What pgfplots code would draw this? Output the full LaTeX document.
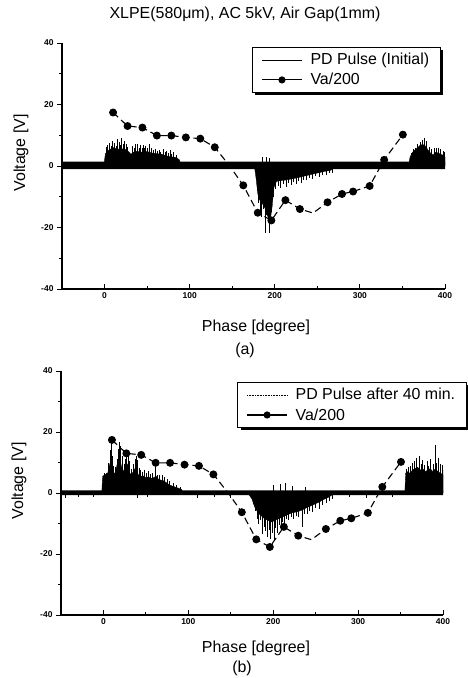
\documentclass[border=0pt]{standalone}
\usepackage{fontspec}
\setmainfont{Liberation Sans}
\usepackage{pgfplots}
\usepackage{pgfplotstable}
\pgfplotsset{compat=1.18}
\usetikzlibrary{shadows}
% legend images must not inherit the legend box shadow
\makeatletter
\tikzset{nopre/.code={\let\tikz@preactions=\pgfutil@empty}}
\makeatother

% applied voltage / 200 (same trace in both panels)
\pgfplotstableread{
x y
10 17.4
27 13.0
44.5 12.5
61.5 9.9
78.5 9.9
95.5 9.3
112.5 8.9
129.5 6.1
147 0
163 -6.3
180 -15.2
196 -17.7
212.5 -11.1
229.5 -14.0
245 -15.3
262 -11.8
279 -9.1
292 -8.3
311.5 -6.5
328.5 2.0
350.5 10.2
}\va

% ---- panel (a): PD pulse, initial ----
\pgfplotstableread{
x y
-1 0
1 4
4 5.0
7 5.5
10 6.0
14 5.6
18 5.4
22 5.6
26 5.2
29 4.5
31 3.8
34 4.5
38 4.8
44 4.5
50 4.7
56 4.2
62 4.0
68 3.8
72 3.3
78 3.0
84 2.8
88 2.0
90 0
}\bodyAa
\pgfplotstableread{
x y
2 6.2
3 6.8
5 6.0
6 7.4
8 6.6
9 8.1
11 7.0
12 7.5
14 6.4
15 8.9
17 7.8
19 6.8
20 9.2
22 7.0
23 8.2
25 7.0
27 6.3
33 6.5
35 5.8
36 7.0
38 6.0
39 7.1
41 5.9
42 6.8
44 5.7
45 6.9
47 5.8
48 6.6
50 5.7
52 7.1
55 5.9
57 5.1
60 5.6
62 4.8
64 5.2
66 4.6
69 5.5
71 4.4
73 5.0
75 4.2
77 5.3
79 3.9
81 4.6
84 3.5
}\spkAa
\pgfplotstableread{
x y
176 0
178 -4
180 -9
182 -11
185 -12
187 -13
189 -14
191 -16
193 -17
195 -17
197 -13
199 -7
202 -5
206 -4.8
212 -4.6
218 -4.3
224 -4.0
230 -3.6
236 -3.2
242 -2.8
250 -2.3
258 -1.8
266 -1.4
270 0
}\bodyAb
\pgfplotstableread{
x y
179 -8
181 -12
183 -15
184 -16.5
186 -14
188.5 -21.8
190 -16
192 -18
193.6 -21.8
196 -15
198 -10
201 -7.5
204 -6.5
207 -7.2
210 -6.0
213 -6.8
216 -5.6
219 -6.3
222 -5.2
225 -6.0
228 -5.0
231 -5.4
234 -4.5
237 -4.7
240 -4.0
244 -4.2
248 -3.4
252 -3.5
256 -2.8
260 -3.0
264 -2.3
268 -2.2
185 2.8
190 3.0
194 2.5
}\spkAb
\pgfplotstableread{
x y
357 0
359 3.0
362 4.5
365 5.3
368 6.0
371 6.8
374 7.0
377 6.5
380 5.2
383 4.2
386 3.6
389 4.5
392 4.2
395 3.8
398 3.5
400 3.0
400 0
}\bodyAc
\pgfplotstableread{
x y
360 4.2
363 5.4
365.5 6.0
368 7.2
370.5 7.7
373 8.5
376 9.2
378.5 8.0
381 6.3
384 5.4
387 6.0
390 5.7
392.5 5.9
395 5.5
397.5 5.0
399.5 4.5
}\spkAc

% ---- panel (b): PD pulse after 40 min ----
\pgfplotstableread{
x y
-2 0
-1 5.5
2 6
5 6.5
7 9
9 11
11 8
13 6
15 8
17 10.5
19 12
21 9
23 7
25 8
27 10
29 9
31 6.5
33 6
35 7
37 8
39 7.5
41 6
44 5.5
47 5.6
50 5
53 5.3
56 4.8
59 5.0
62 5.5
65 4.5
68 4.2
71 4.0
74 3.4
77 2.8
80 2.4
84 2.0
88 1.6
92 1.2
94 0
}\bodyBa
\pgfplotstableread{
x y
1 6.5
3 6.4
6 10
8 14
9 16.3
10 12
12 9
14 8.5
16 11
18 14.5
19 16.6
20 15.4
22 12
24 9.5
26 11
27.5 14.2
29 13
31 10.4
33 8
35 9.5
37 11
38.5 12
40 10.9
42 8.2
44 7.5
46 7
48 7.4
50 6.6
53 7.2
55 6.2
58 6.5
61 8.7
63 6.0
66 5.8
69 6.0
72 5.4
75 4.6
78 3.8
82 3.2
86 2.5
90 2.0
}\spkBa
\pgfplotstableread{
x y
170 0
175 -2
178 -4.5
182 -6.5
186 -7.5
190 -8.5
194 -9
198 -9.5
202 -9
206 -8.5
210 -8
214 -7.5
218 -7
222 -6.5
226 -6.3
230 -6
234 -5.6
238 -5
242 -4.5
246 -4
250 -3.5
254 -3
258 -2.3
262 -1.8
266 -1.3
272 0
}\bodyBb
\pgfplotstableread{
x y
176 -3.5
179 -6
181 -8.5
183 -10
185 -9
187 -13.3
189 -11
191 -12.5
193 -14.3
195 -12
197 -15.2
199 -13
201 -15.8
203 -11.5
205 -13
207 -10.5
209 -12.6
211 -9.5
213 -10.5
215 -8.5
218 -9
221 -8
224 -8.5
227 -7.5
230 -8
234 -11
237 -7
240 -6.8
243 -6
246 -6.2
250 -5
254 -5.3
258 -4
262 -3.2
266 -2.5
270 -2
200 2.5
208 2.8
214 3.2
222 2.4
238 2.0
-45 -1.5
-30 -1.2
-12 -1.4
40 -1.6
52 -1.3
110 -1.5
130 -1.3
150 -1.6
290 -1.2
310 -1.5
340 -1.3
}\spkBb
\pgfplotstableread{
x y
355 0
356 6.5
358 7
361 6.5
364 7.5
367 8
370 8.5
373 7.5
376 8
379 7
382 7.5
385 8
388 7
391 8
394 7
397 6.5
400 6
400 0
}\bodyBc
\pgfplotstableread{
x y
357 8
359 8.5
361.5 9.0
363.5 9.8
366 10.5
368.3 11.4
371.5 12
374 9.5
375.5 10.8
378 9.2
381.3 10.5
383 9.0
385.2 11
388 9.4
391 15.7
392.5 10
394.2 11.4
396.5 9.5
398.9 9.3
400 7.5
}\spkBc

\pgfplotsset{
  panel/.style={
    scale only axis,
    xmin=-50, xmax=400, ymin=-40, ymax=40,
    axis x line*=bottom, axis y line*=left,
    axis line style={line width=1.1bp},
    xtick={0,100,200,300,400},
    minor xtick={50,150,250,350},
    ytick={-40,-20,0,20,40},
    minor ytick={-30,-10,10,30},
    xtick align=inside, ytick align=outside,
    major tick length=5bp, minor tick length=3bp,
    every tick/.style={black, line width=0.9bp},
    tick label style={font=\fontsize{8.5}{10}\selectfont\bfseries},
    /pgf/number format/assume math mode=true,
    legend cell align=left,
    legend image code/.code={%
      \draw[nopre,mark repeat=2,mark phase=2,##1] plot coordinates {(0bp,0bp) (20bp,0bp) (40bp,0bp)};
      \path (46bp,0bp);},
    legend style={font=\fontsize{16}{19}\selectfont, draw=black, line width=0.9bp,
      fill=white, inner xsep=9bp, inner ysep=4bp, row sep=3bp,
      drop shadow={shadow xshift=3bp, shadow yshift=-3bp, fill=black, opacity=1}},
  },
  valine/.style={black, line width=1.1bp, dash pattern=on 7bp off 4bp,
    mark=*, mark size=3.4bp, mark options={solid},
    mark indices={1,2,3,4,5,6,7,8,10,11,12,13,14,16,17,18,19,20,21}},
  body/.style={fill=black, draw=black, line width=0.3bp, forget plot},
  spikes/.style={ycomb, black, line width=0.6bp, forget plot},
}

\begin{document}
\begin{tikzpicture}
\useasboundingbox (0,0) rectangle (468bp,678bp);

\node[font=\fontsize{16}{19}\selectfont] at (245bp,664bp) {XLPE(580μm), AC 5kV, Air Gap(1mm)};

% (a)
\begin{axis}[panel, at={(62bp,389bp)}, anchor=south west, width=383bp, height=246bp,
  legend style={at={(0.496,0.984)}, anchor=north west}]
\addplot[fill=black, draw=none, forget plot] coordinates {(-50,-1.0) (400,-1.0) (400,1.4) (-50,1.4) (-50,-1.0)};
\addplot[body] table {\bodyAa} \closedcycle;
\addplot[body] table {\bodyAb} \closedcycle;
\addplot[body] table {\bodyAc} \closedcycle;
\addplot[spikes] table {\spkAa};
\addplot[spikes] table {\spkAb};
\addplot[spikes] table {\spkAc};
\addplot[valine, forget plot] table {\va};
\addlegendimage{black, line width=0.7bp}
\addlegendentry{PD Pulse (Initial)}
\addlegendimage{black, line width=1.1bp, mark=*, mark size=3bp}
\addlegendentry{Va/200}
\end{axis}
\node[font=\fontsize{16}{19}\selectfont, rotate=90] at (21bp,525bp) {Voltage [V]};
\node[font=\fontsize{16}{19}\selectfont] at (256bp,351bp) {Phase [degree]};
\node[font=\fontsize{16}{19}\selectfont] at (245bp,328bp) {(a)};

% (b)
\begin{axis}[panel, at={(61bp,63bp)}, anchor=south west, width=382bp, height=244bp,
  legend style={at={(0.461,0.955)}, anchor=north west}]
\addplot[fill=black, draw=none, forget plot] coordinates {(-50,-0.7) (400,-0.7) (400,0.9) (-50,0.9) (-50,-0.7)};
\addplot[body] table {\bodyBa} \closedcycle;
\addplot[body] table {\bodyBb} \closedcycle;
\addplot[body] table {\bodyBc} \closedcycle;
\addplot[spikes] table {\spkBa};
\addplot[spikes] table {\spkBb};
\addplot[spikes] table {\spkBc};
\addplot[valine, forget plot] table {\va};
\addlegendimage{black, line width=0.6bp, densely dotted}
\addlegendentry{PD Pulse after 40 min.}
\addlegendimage{black, line width=1.1bp, mark=*, mark size=3bp}
\addlegendentry{Va/200}
\end{axis}
\node[font=\fontsize{16}{19}\selectfont, rotate=90] at (19bp,197bp) {Voltage [V]};
\node[font=\fontsize{16}{19}\selectfont] at (256bp,30bp) {Phase [degree]};
\node[font=\fontsize{16}{19}\selectfont] at (242bp,10bp) {(b)};
\end{tikzpicture}
\end{document}
